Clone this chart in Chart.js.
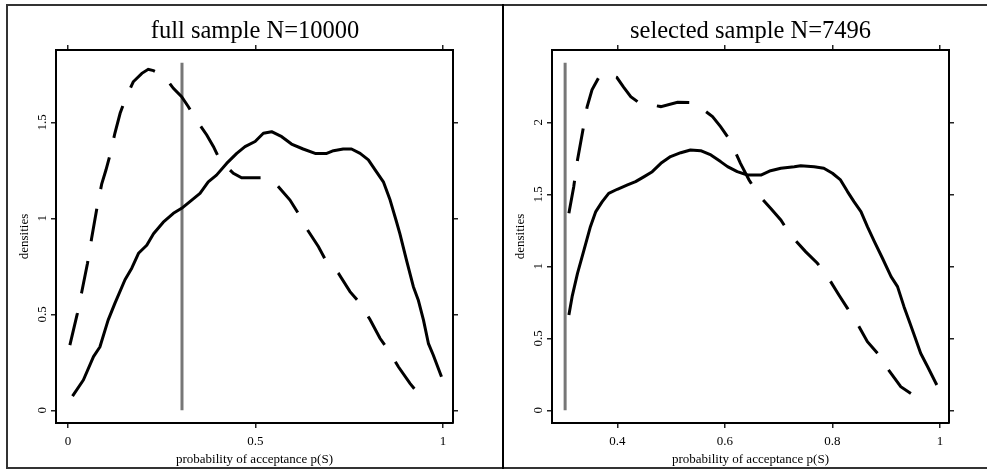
<!DOCTYPE html>
<html>
<head>
<meta charset="utf-8">
<title>densities</title>
<script src="https://cdn.jsdelivr.net/npm/chart.js@4.4.1/dist/chart.umd.min.js"></script>
<style>
  html, body { margin: 0; padding: 0; background: #fff; overflow: hidden; }
  #wrap { position: relative; width: 987px; height: 471px; overflow: hidden; }
  canvas { position: absolute; top: 0; }
  #fullChart { left: 8px; }
  #selChart { left: 504px; }
  .rule { position: absolute; background: #333; }
</style>
</head>
<body>
<div id="wrap">
  <canvas id="fullChart" width="494" height="471"></canvas>
  <canvas id="selChart" width="493" height="471"></canvas>
  <div class="rule" style="left:6px;top:4px;width:981px;height:2px"></div>
  <div class="rule" style="left:6px;top:4px;width:2px;height:465px"></div>
  <div class="rule" style="left:6px;top:467px;width:981px;height:2px"></div>
  <div class="rule" style="left:502px;top:4px;width:2px;height:465px;background:#000"></div>
</div>
<script>
// full sample panel
var fullTicksX = [0, 0.5, 1];
var fullTicksY = [0, 0.5, 1, 1.5];
var fullSolidX = [0.012, 0.041, 0.068, 0.085, 0.107, 0.125, 0.152, 0.17, 0.188, 0.21, 0.228, 0.254, 0.281, 0.303, 0.33, 0.352, 0.374, 0.396, 0.423, 0.45, 0.472, 0.499, 0.521, 0.543, 0.57, 0.596, 0.627, 0.659, 0.69, 0.708, 0.734, 0.756, 0.779, 0.801, 0.819, 0.841, 0.859, 0.876, 0.885, 0.903, 0.921, 0.934, 0.948, 0.961, 0.974, 0.996];
var fullSolidY = [0.074, 0.158, 0.28, 0.33, 0.47, 0.557, 0.68, 0.74, 0.818, 0.86, 0.92, 0.98, 1.026, 1.052, 1.095, 1.13, 1.19, 1.225, 1.286, 1.338, 1.373, 1.40, 1.443, 1.451, 1.425, 1.387, 1.361, 1.338, 1.338, 1.352, 1.361, 1.361, 1.338, 1.304, 1.252, 1.19, 1.095, 0.982, 0.92, 0.78, 0.644, 0.575, 0.47, 0.349, 0.288, 0.175];
var fullDashX = [0.005, 0.025, 0.036, 0.052, 0.063, 0.077, 0.09, 0.101, 0.112, 0.125, 0.139, 0.152, 0.174, 0.197, 0.214, 0.228, 0.254, 0.281, 0.303, 0.321, 0.339, 0.37, 0.388, 0.405, 0.423, 0.441, 0.463, 0.521, 0.552, 0.592, 0.614, 0.636, 0.668, 0.685, 0.721, 0.752, 0.779, 0.805, 0.832, 0.854, 0.881, 0.912, 0.93, 0.952];
var fullDashY = [0.34, 0.505, 0.61, 0.766, 0.896, 1.052, 1.18, 1.25, 1.33, 1.443, 1.547, 1.616, 1.711, 1.755, 1.776, 1.769, 1.746, 1.677, 1.633, 1.581, 1.521, 1.434, 1.373, 1.304, 1.269, 1.234, 1.211, 1.211, 1.185, 1.095, 1.026, 0.948, 0.852, 0.79, 0.714, 0.618, 0.557, 0.474, 0.375, 0.314, 0.227, 0.14, 0.097, 0.068];
var fullCutX = 0.304;
var fullCutTop = 1.81;

// selected sample panel
var selTicksX = [0.4, 0.6, 0.8, 1];
var selTicksY = [0, 0.5, 1, 1.5, 2];
var selSolidX = [0.31, 0.316, 0.326, 0.338, 0.35, 0.36, 0.372, 0.384, 0.4, 0.419, 0.434, 0.45, 0.465, 0.481, 0.499, 0.518, 0.536, 0.555, 0.574, 0.592, 0.605, 0.623, 0.642, 0.667, 0.685, 0.704, 0.729, 0.741, 0.766, 0.784, 0.8, 0.815, 0.828, 0.84, 0.853, 0.865, 0.878, 0.893, 0.909, 0.921, 0.933, 0.943, 0.952, 0.964, 0.977, 0.994];
var selSolidY = [0.662, 0.789, 0.951, 1.113, 1.275, 1.38, 1.449, 1.507, 1.535, 1.565, 1.588, 1.623, 1.657, 1.715, 1.762, 1.789, 1.808, 1.803, 1.773, 1.727, 1.692, 1.657, 1.634, 1.634, 1.664, 1.681, 1.692, 1.699, 1.692, 1.681, 1.646, 1.60, 1.519, 1.449, 1.38, 1.275, 1.171, 1.056, 0.928, 0.859, 0.72, 0.616, 0.523, 0.396, 0.303, 0.176];
var selDashX = [0.31, 0.319, 0.326, 0.335, 0.344, 0.353, 0.368, 0.385, 0.399, 0.412, 0.425, 0.44, 0.481, 0.512, 0.543, 0.577, 0.592, 0.605, 0.612, 0.629, 0.645, 0.66, 0.685, 0.704, 0.722, 0.75, 0.772, 0.791, 0.812, 0.828, 0.846, 0.865, 0.884, 0.902, 0.927, 0.952];
var selDashY = [1.368, 1.553, 1.738, 1.924, 2.109, 2.225, 2.329, 2.33, 2.312, 2.243, 2.178, 2.137, 2.109, 2.139, 2.137, 2.039, 1.97, 1.90, 1.854, 1.715, 1.60, 1.507, 1.403, 1.322, 1.218, 1.102, 1.021, 0.928, 0.801, 0.708, 0.604, 0.477, 0.396, 0.292, 0.164, 0.102];
var selCutX = 0.303;
var selCutTop = 2.414;

var serif = "'Liberation Serif', 'Times New Roman', serif";

function pairs(xs, ys) {
  return xs.map(function (x, i) { return { x: x, y: ys[i] }; });
}

function fixTicks(values) {
  return function (scale) {
    scale.ticks = values.map(function (v) { return { value: v }; });
  };
}

// ticks pointing outward, no grid inside the box
var tickGrid = { drawOnChartArea: false, drawTicks: true, tickLength: 5, color: "#222", lineWidth: 1.5 };
var frame = { display: true, color: "#000", width: 2 };

function makePanel(id, title, p) {
  return new Chart(document.getElementById(id), {
    type: "scatter",
    data: {
      datasets: [
        {
          data: pairs(p.solidX, p.solidY),
          showLine: true, borderColor: "#000", borderWidth: 3, pointRadius: 0, borderJoinStyle: "round",
        },
        {
          data: pairs(p.dashX, p.dashY),
          showLine: true, borderColor: "#000", borderWidth: 3, pointRadius: 0, borderDash: [33, 20],
        },
        {
          data: [{ x: p.cutX, y: 0 }, { x: p.cutX, y: p.cutTop }],
          showLine: true, borderColor: "#777", borderWidth: 3, pointRadius: 0,
        },
      ],
    },
    options: {
      responsive: false,
      animation: false,
      events: [],
      layout: { padding: 0 },
      plugins: {
        legend: { display: false },
        tooltip: { enabled: false },
        title: {
          display: true,
          text: title,
          color: "#000",
          font: { family: serif, size: 24.5, weight: "normal" },
          padding: { top: 16.5, bottom: 0 },
        },
      },
      scales: {
        x: {
          type: "linear", position: "bottom", min: p.xMin, max: p.xMax,
          afterBuildTicks: fixTicks(p.ticksX),
          afterFit: function (s) { s.height = 48; },
          grid: tickGrid, border: frame,
          ticks: {
            color: "#000", font: { family: serif, size: 13 }, padding: 6, maxRotation: 0, autoSkip: false,
            callback: function (v) { return String(v); },
          },
          title: {
            display: true, text: "probability of acceptance p(S)", color: "#000",
            font: { family: serif, size: 13 }, padding: { top: 0, bottom: 3.6 },
          },
        },
        x2: {
          type: "linear", position: "top", min: p.xMin, max: p.xMax,
          afterBuildTicks: fixTicks(p.ticksX),
          afterFit: function (s) { s.height = 4.1; },
          grid: tickGrid, border: frame,
          ticks: { display: false },
        },
        y: {
          type: "linear", position: "left", min: p.yMin, max: p.yMax,
          afterBuildTicks: fixTicks(p.ticksY),
          afterFit: function (s) { s.width = p.leftW; },
          grid: tickGrid, border: frame,
          ticks: {
            color: "#000", font: { family: serif, size: 13 }, padding: 0,
            minRotation: 90, maxRotation: 90, crossAlign: "center", autoSkip: false,
            callback: function (v) { return String(v); },
          },
          title: {
            display: true, text: "densities", color: "#000",
            font: { family: serif, size: 13 }, padding: { top: 9, bottom: 0 },
          },
        },
        y2: {
          type: "linear", position: "right", min: p.yMin, max: p.yMax,
          afterBuildTicks: fixTicks(p.ticksY),
          afterFit: function (s) { s.width = p.rightW; },
          grid: tickGrid, border: frame,
          ticks: { display: false },
        },
      },
    },
  });
}

makePanel("fullChart", "full sample N=10000", {
  solidX: fullSolidX, solidY: fullSolidY, dashX: fullDashX, dashY: fullDashY,
  cutX: fullCutX, cutTop: fullCutTop,
  ticksX: fullTicksX, ticksY: fullTicksY,
  xMin: -0.032, xMax: 1.0267, yMin: -0.066, yMax: 1.8766,
  leftW: 48, rightW: 49,
});

makePanel("selChart", "selected sample N=7496", {
  solidX: selSolidX, solidY: selSolidY, dashX: selDashX, dashY: selDashY,
  cutX: selCutX, cutTop: selCutTop,
  ticksX: selTicksX, ticksY: selTicksY,
  xMin: 0.2786, xMax: 1.0167, yMin: -0.088, yMax: 2.502,
  leftW: 48, rightW: 48,
});
</script>
</body>
</html>
